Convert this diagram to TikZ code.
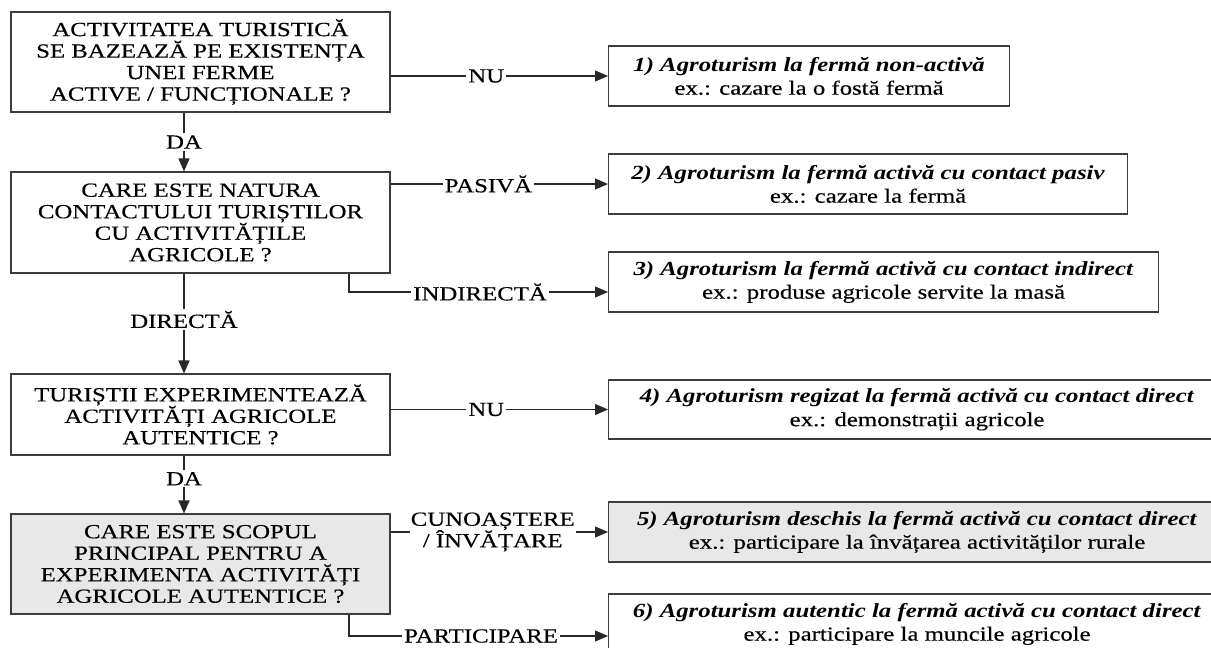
\documentclass[tikz,border=0pt]{standalone}
\usepackage{fontspec}
\setmainfont{Liberation Serif}[FakeStretch=1.24, UprightFeatures={FakeBold=0.35}]
\usetikzlibrary{arrows.meta,calc}
\definecolor{boxgray}{RGB}{60,60,60}
\definecolor{linegray}{RGB}{40,40,40}
\definecolor{fillgray}{RGB}{232,232,232}
\begin{document}
\begin{tikzpicture}[x=1pt,y=-1pt]
\tikzset{
 qbox/.style={draw=boxgray, line width=1.1pt, align=center, inner sep=0pt, font=\fontsize{20}{21.5}\selectfont},
 rbox/.style={draw=boxgray, line width=1.1pt, align=center, inner sep=0pt, anchor=west, font=\fontsize{20}{23.5}\selectfont},
 conn/.style={draw=linegray, line width=1.1pt},
 arr/.style={conn, -{Triangle[length=13pt,width=11pt]}},
 lbl/.style={fill=white, inner sep=2pt, font=\fontsize{20}{21.5}\selectfont}
}
\useasboundingbox (0,0) rectangle (1211,648);
\clip (0,0) rectangle (1211,648);
\fill[white] (0,0) rectangle (1211,648);

% left question boxes
\node[qbox, minimum width=379pt, minimum height=100pt] (A) at (200.5,62)
 {ACTIVITATEA TURISTICĂ\\SE BAZEAZĂ PE EXISTENȚA\\UNEI FERME\\ACTIVE / FUNCȚIONALE ?};
\node[qbox, minimum width=379pt, minimum height=101pt] (B) at (200.5,222.5)
 {CARE ESTE NATURA\\CONTACTULUI TURIȘTILOR\\CU ACTIVITĂȚILE\\AGRICOLE ?};
\node[qbox, minimum width=379pt, minimum height=81pt] (C) at (200.5,414.5)
 {TURIȘTII EXPERIMENTEAZĂ\\ACTIVITĂȚI AGRICOLE\\AUTENTICE ?};
\node[qbox, fill=fillgray, minimum width=379pt, minimum height=100pt] (D) at (200.5,564)
 {CARE ESTE SCOPUL\\PRINCIPAL PENTRU A\\EXPERIMENTA ACTIVITĂȚI\\AGRICOLE AUTENTICE ?};

% right result boxes
\node[rbox, minimum width=401pt, minimum height=60pt] (r1) at (608,76)
 {\textbf{\textit{1) Agroturism la fermă non-activă}}\\ex.: cazare la o fostă fermă};
\node[rbox, minimum width=519pt, minimum height=60pt] (r2) at (608,184)
 {\textbf{\textit{2) Agroturism la fermă activă cu contact pasiv}}\\ex.: cazare la fermă};
\node[rbox, minimum width=550pt, minimum height=60pt] (r3) at (608,282)
 {\textbf{\textit{3) Agroturism la fermă activă cu contact indirect}}\\ex.: produse agricole servite la masă};
\node[rbox, minimum width=617pt, minimum height=59pt] (r4) at (608,409.5)
 {\textbf{\textit{4) Agroturism regizat la fermă activă cu contact direct}}\\ex.: demonstrații agricole};
\node[rbox, fill=fillgray, minimum width=617pt, minimum height=60pt] (r5) at (608,532)
 {\textbf{\textit{5) Agroturism deschis la fermă activă cu contact direct}}\\ex.: participare la învățarea activităților rurale};
\node[rbox, minimum width=617pt, minimum height=60pt] (r6) at (608,624)
 {\textbf{\textit{6) Agroturism autentic la fermă activă cu contact direct}}\\ex.: participare la muncile agricole};

% helper coordinates
\coordinate (vx) at (184,0);
\coordinate (bx) at (349,0);
\coordinate (r3in) at ([yshift=-10pt]r3.west);
\coordinate (r6in) at ([yshift=-12pt]r6.west);

% vertical connectors
\draw[arr] (A.south -| vx) -- node[lbl]{DA} (B.north -| vx);
\draw[arr] (B.south -| vx) -- node[lbl,pos=0.46]{DIRECTĂ} (C.north -| vx);
\draw[arr] (C.south -| vx) -- node[lbl,pos=0.4]{DA} (D.north -| vx);

% horizontal connectors
\draw[arr] (A.east |- r1.west) -- node[lbl,pos=0.44]{NU} (r1.west);
\draw[arr] (B.east |- r2.west) -- node[lbl,pos=0.45]{PASIVĂ} (r2.west);
\draw[arr] (B.south -| bx) |- node[lbl,pos=0.753]{INDIRECTĂ} (r3in);
\draw[arr] (C.east |- r4.west) -- node[lbl,pos=0.44]{NU} (r4.west);
\draw[arr] (D.east |- r5.west) -- node[lbl,pos=0.47,align=center,inner sep=1pt]{CUNOAȘTERE\\/ ÎNVĂȚARE} (r5.west);
\draw[arr] (D.south -| bx) |- node[lbl,pos=0.755]{PARTICIPARE} (r6in);
\end{tikzpicture}
\end{document}
